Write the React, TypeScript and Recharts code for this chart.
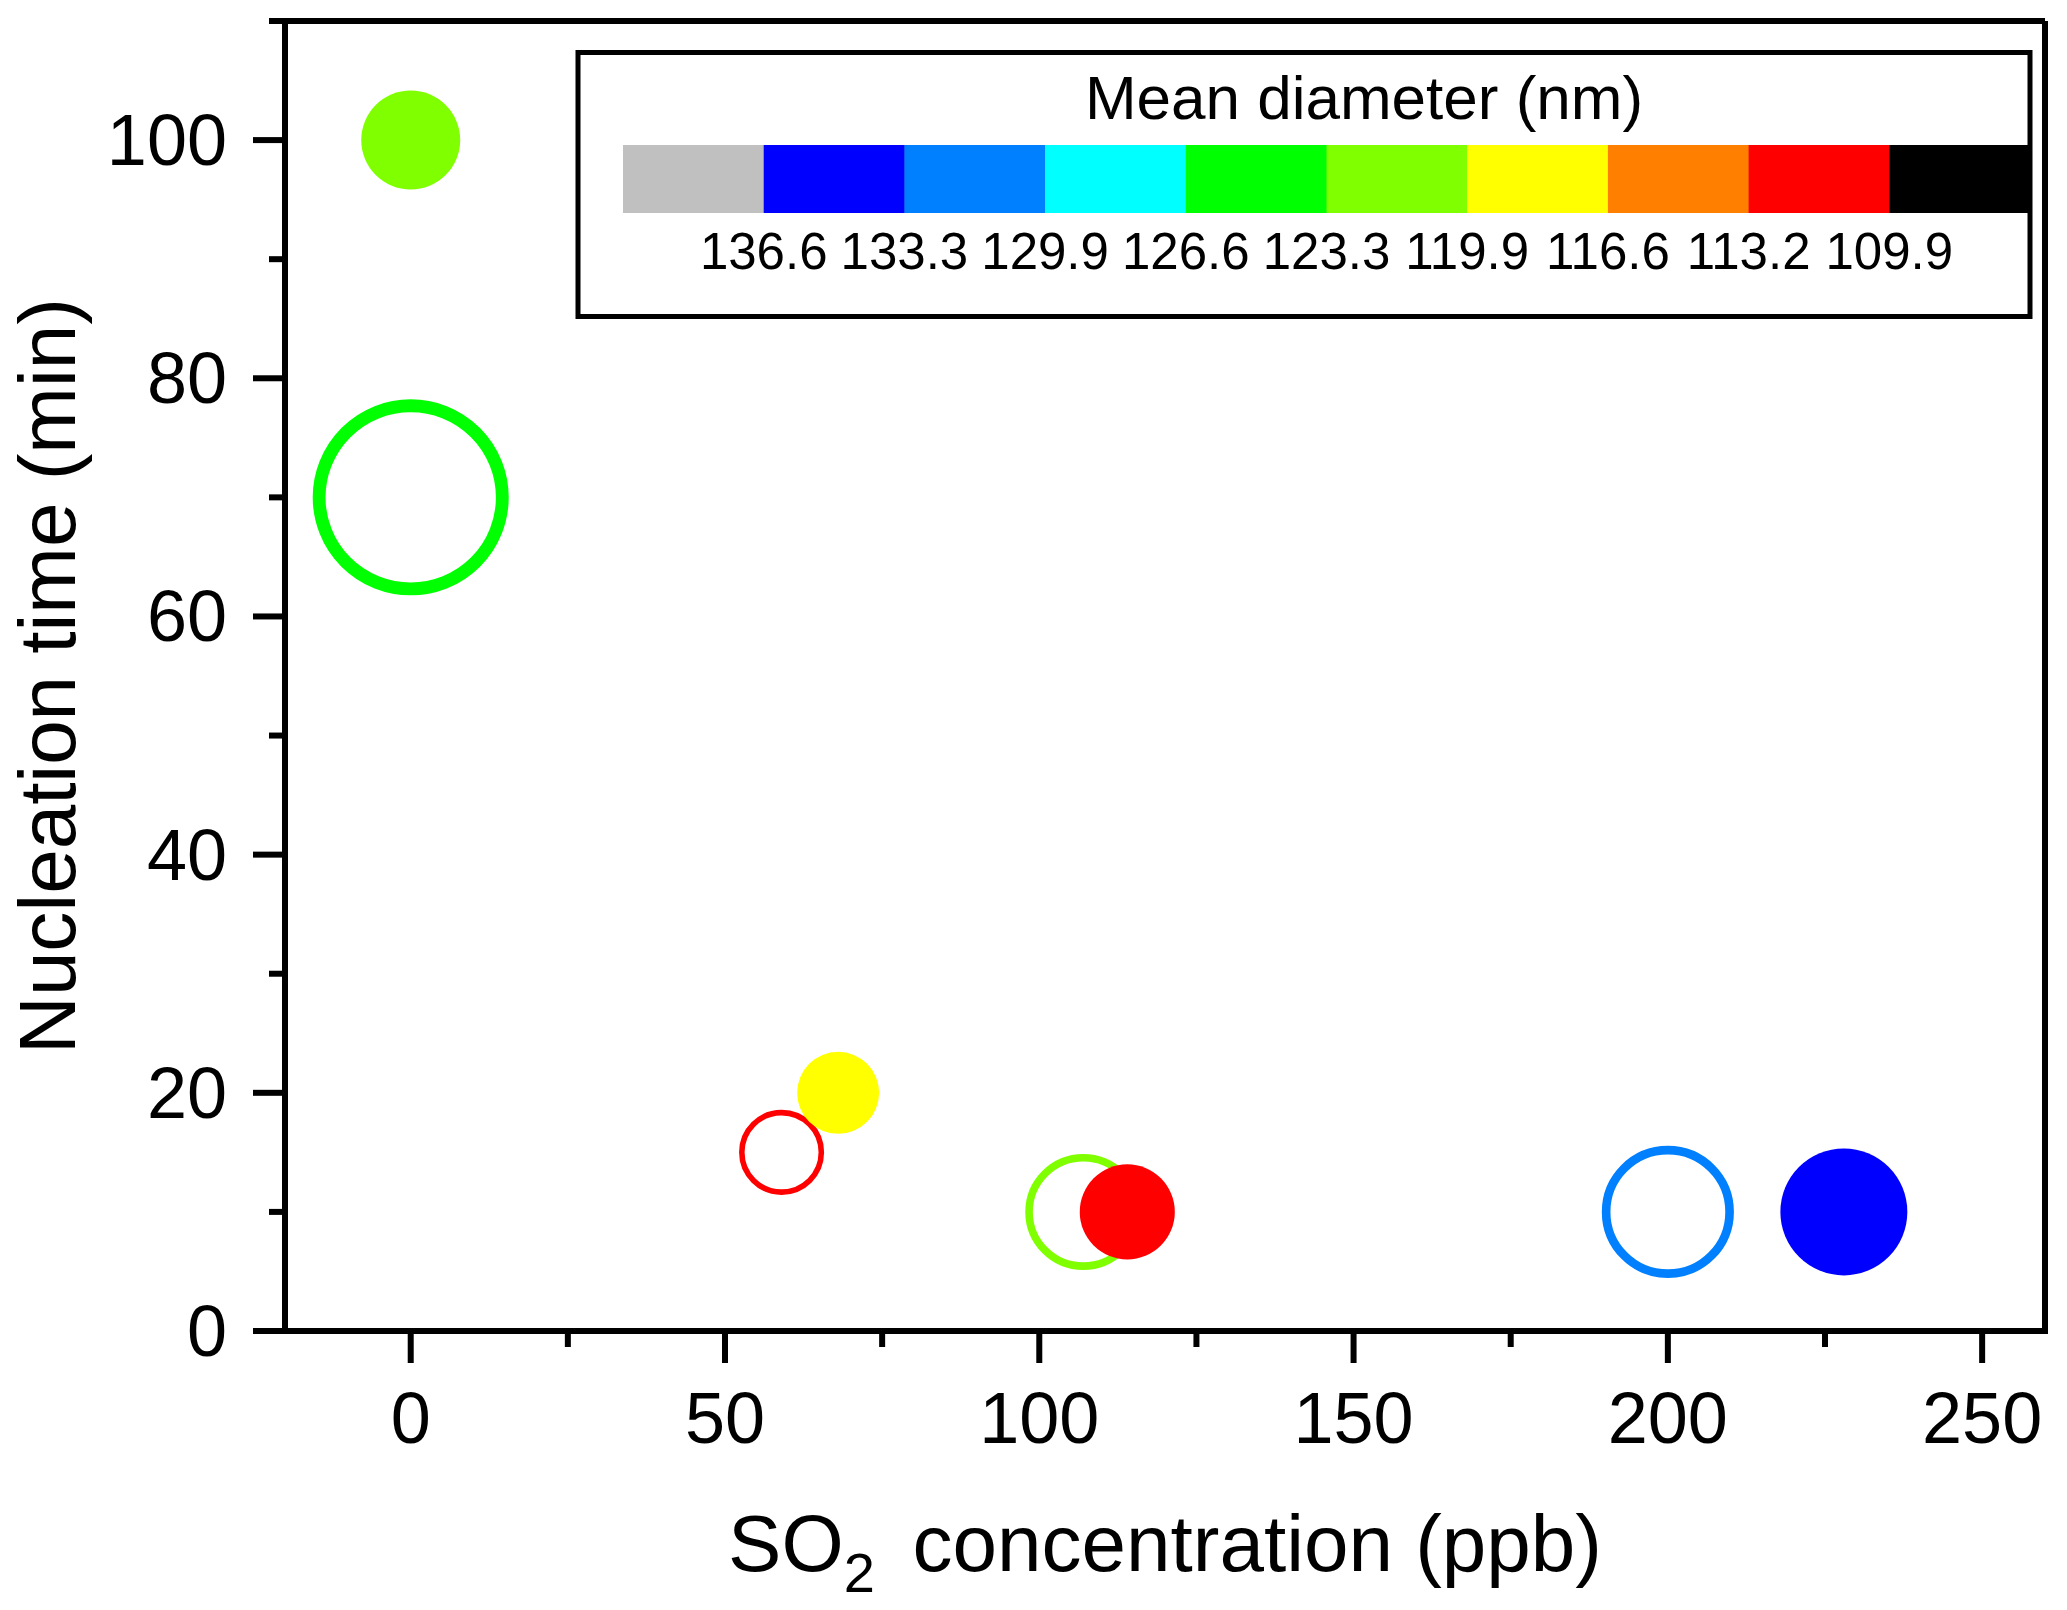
import React from 'react';
import { ScatterChart, Scatter, XAxis, YAxis, ZAxis, ReferenceLine, Legend } from 'recharts';

const FONT = '"Liberation Sans", Arial, Helvetica, sans-serif';

// filled symbols
const filledSO2 = [0, 68, 114, 228];
const filledTime = [100, 20, 10, 10];
const filledDiameter = [121.5, 118, 111.5, 135];
const filledSize = [24.5, 16.8, 22.6, 40.3];

// open symbols
const openSO2 = [0, 59, 107, 200];
const openTime = [70, 15, 10, 10];
const openDiameter = [125, 111.5, 121.5, 131.5];
const openSize = [83.9, 15.8, 29.4, 38.1];

const xTicks = [0, 25, 50, 75, 100, 125, 150, 175, 200, 225, 250];
const yTicks = [0, 10, 20, 30, 40, 50, 60, 70, 80, 90, 100, 110];

// colour scale for mean diameter (nm)
const diameterBreaks = [136.6, 133.3, 129.9, 126.6, 123.3, 119.9, 116.6, 113.2, 109.9];
const diameterColors = [
  '#C0C0C0', '#0000FF', '#0080FF', '#00FFFF', '#00FF00',
  '#80FF00', '#FFFF00', '#FF8000', '#FF0000', '#000000',
];

const colorFor = (d: number) => diameterColors[diameterBreaks.filter((b) => b >= d).length];

const filledData = filledSO2.map((x, i) => ({ x, y: filledTime[i], z: filledSize[i], d: filledDiameter[i] }));
const openData = openSO2.map((x, i) => ({ x, y: openTime[i], z: openSize[i], d: openDiameter[i] }));

const bubble = (hollow: boolean) => (props: any) => {
  const { cx, cy, width, size, payload } = props;
  const r = width ? width / 2 : Math.sqrt((size || 0) / Math.PI);
  const color = colorFor(payload.d);
  if (hollow) {
    return <circle cx={cx} cy={cy} r={r} fill="none" stroke={color} strokeWidth={r * 0.14} />;
  }
  return <circle cx={cx} cy={cy} r={r} fill={color} />;
};

const XTick = (props: any) => {
  const { x, y, payload } = props;
  const major = payload.value % 50 === 0;
  return (
    <g>
      <line x1={x} x2={x} y1={y} y2={y + (major ? 32 : 16)} stroke="#000" strokeWidth={6} />
      {major && (
        <text x={x} y={y + 112} textAnchor="middle" fontSize={72} fontFamily={FONT} fill="#000">
          {payload.value}
        </text>
      )}
    </g>
  );
};

const YTick = (props: any) => {
  const { x, y, payload } = props;
  const major = payload.value % 20 === 0;
  return (
    <g>
      <line x1={x} x2={x - (major ? 32 : 16)} y1={y} y2={y} stroke="#000" strokeWidth={6} />
      {major && (
        <text x={x - 58} y={y + 25} textAnchor="end" fontSize={72} fontFamily={FONT} fill="#000">
          {payload.value}
        </text>
      )}
    </g>
  );
};

const XTitle = (props: any) => {
  const { viewBox } = props;
  const cx = viewBox.x + viewBox.width / 2;
  return (
    <text x={cx} y={viewBox.y + 240} textAnchor="middle" fontSize={80} fontFamily={FONT} fill="#000">
      SO
      <tspan fontSize={56} dy={21}>{'2\u00a0'}</tspan>
      <tspan dy={-21}>{'\u00a0concentration (ppb)'}</tspan>
    </text>
  );
};

const YTitle = (props: any) => {
  const { viewBox } = props;
  const x = viewBox.x + 75;
  const y = viewBox.y + viewBox.height / 2;
  return (
    <text
      x={x}
      y={y}
      transform={`rotate(-90, ${x}, ${y})`}
      textAnchor="middle"
      fontSize={80}
      fontFamily={FONT}
      fill="#000"
    >
      Nucleation time (min)
    </text>
  );
};

const CELL = 140.7;

const DiameterScale = () => (
  <svg width={1458} height={269} style={{ display: 'block' }}>
    <text x={789} y={69} textAnchor="middle" fontSize={62} fontFamily={FONT} fill="#000">
      Mean diameter (nm)
    </text>
    {diameterColors.map((c, i) => (
      <rect key={c} x={48 + i * CELL} y={95} width={CELL + 0.5} height={68} fill={c} />
    ))}
    {diameterBreaks.map((b, i) => (
      <text key={b} x={48 + (i + 1) * CELL} y={219} textAnchor="middle" fontSize={51} fontFamily={FONT} fill="#000">
        {b.toFixed(1)}
      </text>
    ))}
    <rect x={3} y={2.5} width={1452} height={264} fill="none" stroke="#000" strokeWidth={5} />
  </svg>
);

export default function App() {
  return (
    <div style={{ position: 'absolute', left: 0, top: 0, width: 2067, height: 1610, background: '#fff' }}>
      <ScatterChart width={2067} height={1610} margin={{ top: 21, right: 22, bottom: 0, left: 0 }}>
        <XAxis
          type="number"
          dataKey="x"
          domain={[-20, 260]}
          allowDataOverflow
          ticks={xTicks}
          interval={0}
          height={279}
          tickSize={0}
          tickMargin={0}
          tickLine={false}
          tick={<XTick />}
          axisLine={{ stroke: '#000', strokeWidth: 6, strokeLinecap: 'square' }}
          label={<XTitle />}
        />
        <YAxis
          type="number"
          dataKey="y"
          domain={[0, 110]}
          allowDataOverflow
          ticks={yTicks}
          interval={0}
          width={285}
          tickSize={0}
          tickMargin={0}
          tickLine={false}
          tick={<YTick />}
          axisLine={{ stroke: '#000', strokeWidth: 6, strokeLinecap: 'square' }}
          label={<YTitle />}
        />
        <ZAxis type="number" dataKey="z" domain={[0, 100]} range={[0, 31416]} />
        <ReferenceLine y={110} stroke="#000" strokeWidth={6} ifOverflow="visible" />
        <ReferenceLine x={260} stroke="#000" strokeWidth={6} ifOverflow="visible" />
        <Legend
          layout="horizontal"
          verticalAlign="middle"
          align="center"
          wrapperStyle={{ left: 575, top: 50, width: 1458, height: 269 }}
          content={() => <DiameterScale />}
        />
        <Scatter data={openData} shape={bubble(true)} isAnimationActive={false} />
        <Scatter data={filledData} shape={bubble(false)} isAnimationActive={false} />
      </ScatterChart>
    </div>
  );
}
